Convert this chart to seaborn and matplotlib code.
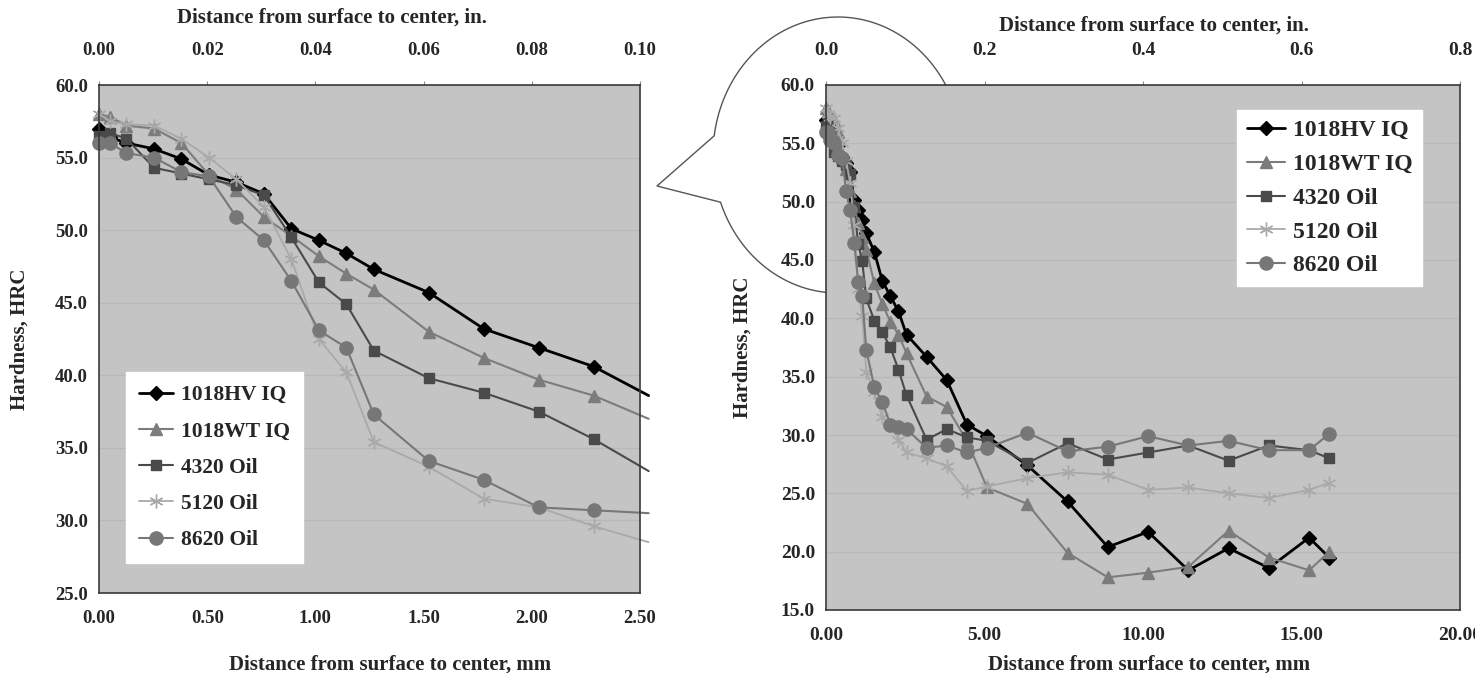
import numpy as np
import pandas as pd
import seaborn as sns
import matplotlib.pyplot as plt
from matplotlib.ticker import FormatStrFormatter

# depth of each reading, inches from the surface
DEPTH_IN = [0.000, 0.002, 0.005, 0.010, 0.015, 0.020, 0.025, 0.030, 0.035, 0.040,
            0.045, 0.050, 0.060, 0.070, 0.080, 0.090, 0.100, 0.125, 0.150, 0.175,
            0.200, 0.250, 0.300, 0.350, 0.400, 0.450, 0.500, 0.550, 0.600, 0.625]

HRC_1018HV = [57.0, 56.4, 56.0, 55.6, 54.9, 53.8, 53.3, 52.5, 50.1, 49.3,
              48.4, 47.3, 45.7, 43.2, 41.9, 40.6, 38.6, 36.7, 34.7, 30.9,
              29.9, 27.4, 24.3, 20.4, 21.7, 18.4, 20.3, 18.6, 21.2, 19.5]
HRC_1018WT = [58.0, 57.8, 57.2, 57.0, 56.0, 53.8, 52.8, 50.9, 49.6, 48.2,
              47.0, 45.9, 43.0, 41.2, 39.7, 38.6, 37.0, 33.3, 32.4, 29.5,
              25.5, 24.1, 19.9, 17.8, 18.2, 18.7, 21.8, 19.5, 18.4, 20.0]
HRC_4320 = [56.5, 56.7, 56.3, 54.3, 53.9, 53.5, 53.1, 52.4, 49.5, 46.4,
            44.9, 41.7, 39.8, 38.8, 37.5, 35.6, 33.4, 29.6, 30.5, 29.8,
            29.5, 27.6, 29.3, 27.9, 28.5, 29.1, 27.8, 29.1, 28.7, 28.0]
HRC_5120 = [58.0, 57.5, 57.3, 57.2, 56.3, 55.0, 53.5, 51.6, 48.0, 42.5,
            40.2, 35.4, 33.7, 31.5, 30.9, 29.6, 28.5, 28.0, 27.3, 25.2,
            25.6, 26.3, 26.8, 26.6, 25.3, 25.5, 25.0, 24.6, 25.3, 25.9]
HRC_8620 = [56.0, 56.0, 55.3, 55.0, 54.0, 53.7, 50.9, 49.3, 46.5, 43.1,
            41.9, 37.3, 34.1, 32.8, 30.9, 30.7, 30.5, 28.9, 29.1, 28.5,
            28.9, 30.2, 28.6, 29.0, 29.9, 29.1, 29.5, 28.7, 28.7, 30.1]

SERIES = ["1018HV IQ", "1018WT IQ", "4320 Oil", "5120 Oil", "8620 Oil"]

depth_mm = np.array(DEPTH_IN) * 25.4
df = pd.DataFrame({
    "depth": np.tile(depth_mm, len(SERIES)),
    "hrc": np.concatenate([HRC_1018HV, HRC_1018WT, HRC_4320, HRC_5120, HRC_8620]),
    "steel": np.repeat(SERIES, len(DEPTH_IN)),
})

styles = {
    "1018HV IQ": dict(color="#000000", marker="D", markersize=7, linewidth=2.0),
    "1018WT IQ": dict(color="#7c7c7c", marker="^", markersize=9, linewidth=1.5),
    "4320 Oil": dict(color="#4a4a4a", marker="s", markersize=6.5, linewidth=1.5),
    "5120 Oil": dict(color="#a9a9a9", marker=(6, 2, 0), markersize=10, linewidth=1.3),
    "8620 Oil": dict(color="#777777", marker="o", markersize=9.5, linewidth=1.5),
}

sns.set_style("white")
plt.rcParams["font.family"] = ["Liberation Serif", "DejaVu Serif"]
plt.rcParams["font.weight"] = "bold"
plt.rcParams["axes.labelweight"] = "bold"

W, H = 1475, 673
fig = plt.figure(figsize=(W / 100, H / 100), dpi=100)


def px_axes(x0, x1, y0, y1):
    return fig.add_axes([x0 / W, 1 - y1 / H, (x1 - x0) / W, (y1 - y0) / H])


ax1 = px_axes(99, 640, 85, 593)
ax2 = px_axes(826, 1460, 85, 610)

# speech-bubble callout pointing from the right chart back to the left one
over = fig.add_axes([0, 0, 1, 1], zorder=-1)
over.set_xlim(0, W)
over.set_ylim(H, 0)
over.axis("off")
cx, cy, rx, ry = 838, 155, 125, 138
t1 = np.radians(np.linspace(28, 172, 120))
t2 = np.radians(np.linspace(200, 268, 60))
bx = np.concatenate([cx + rx * np.cos(t1), [657], cx + rx * np.cos(t2)])
by = np.concatenate([cy - ry * np.sin(t1), [186], cy - ry * np.sin(t2)])
over.plot(bx, by, color="#555555", lw=1.0)


def draw(ax, data, markevery=None):
    for name in SERIES:
        st = styles[name]
        sub = data[data["steel"] == name]
        sns.lineplot(data=sub, x="depth", y="hrc", ax=ax, label=name,
                     errorbar=None, color=st["color"], linewidth=st["linewidth"],
                     marker=st["marker"], markersize=st["markersize"],
                     markerfacecolor=st["color"], markeredgecolor=st["color"],
                     markeredgewidth=1.0, clip_on=False, markevery=markevery)


draw(ax1, df[df["depth"] <= 2.55], markevery=slice(0, -1))
draw(ax2, df)

LABEL_FS = 15


def style_axes(ax, xlim, ylim, yticks, xticks, xfmt, top_ticks, top_fmt, tick_fs):
    ax.set_facecolor("#c4c4c4")
    ax.set_xlim(*xlim)
    ax.set_ylim(*ylim)
    ax.set_yticks(yticks)
    ax.set_xticks(xticks)
    ax.yaxis.set_major_formatter(FormatStrFormatter("%.1f"))
    ax.xaxis.set_major_formatter(FormatStrFormatter(xfmt))
    ax.grid(axis="y", color="#b8b8b8", linewidth=0.9)
    ax.set_axisbelow(True)
    for sp in ax.spines.values():
        sp.set_color("#3a3a3a")
        sp.set_linewidth(1.2)
    ax.tick_params(axis="x", length=0, pad=12, labelsize=tick_fs)
    ax.tick_params(axis="y", length=0, pad=8, labelsize=tick_fs)
    ax.set_xlabel("Distance from surface to center, mm", fontsize=LABEL_FS)
    ax.set_ylabel("Hardness, HRC", fontsize=LABEL_FS)
    # top scale in inches, drawn as Excel did it (1 in. taken as 25 mm)
    sec = ax.secondary_xaxis("top", functions=(lambda v: v / 25.0, lambda v: v * 25.0))
    sec.set_xticks(top_ticks)
    sec.xaxis.set_major_formatter(FormatStrFormatter(top_fmt))
    sec.tick_params(axis="x", length=3, color="#888888", pad=16, labelsize=tick_fs)
    sec.spines["top"].set_visible(False)
    sec.set_xlabel("Distance from surface to center, in.", fontsize=LABEL_FS)
    return sec


sec1 = style_axes(ax1, (0, 2.5), (25, 60), np.arange(25, 61, 5),
                  np.arange(0, 2.51, 0.5), "%.2f", np.arange(0, 0.101, 0.02), "%.2f", 13.5)
sec2 = style_axes(ax2, (0, 20.0), (15, 60), np.arange(15, 61, 5),
                  np.arange(0, 20.1, 5), "%.2f", np.arange(0, 0.81, 0.2), "%.1f", 14)

ax1.yaxis.set_label_coords(-0.1275, 0.5)
ax1.xaxis.set_label_coords(0.538, -0.122)
sec1.xaxis.set_label_coords(0.43, 1.122, transform=ax1.transAxes)
ax2.yaxis.set_label_coords(-0.115, 0.5)
ax2.xaxis.set_label_coords(0.51, -0.0857)
sec2.xaxis.set_label_coords(0.518, 1.103, transform=ax2.transAxes)

leg_kw = dict(frameon=True, fancybox=False, framealpha=1, edgecolor="white",
              facecolor="white", handlelength=1.6, handletextpad=0.35, borderaxespad=0)
ax1.legend(loc="lower left", bbox_to_anchor=(0.05, 0.059), fontsize=15.5,
           labelspacing=0.75, borderpad=0.6, **leg_kw)
ax2.legend(loc="upper right", bbox_to_anchor=(0.94, 0.952), fontsize=17,
           labelspacing=0.52, borderpad=0.4, **leg_kw)

fig.savefig("out.png", dpi=100)
